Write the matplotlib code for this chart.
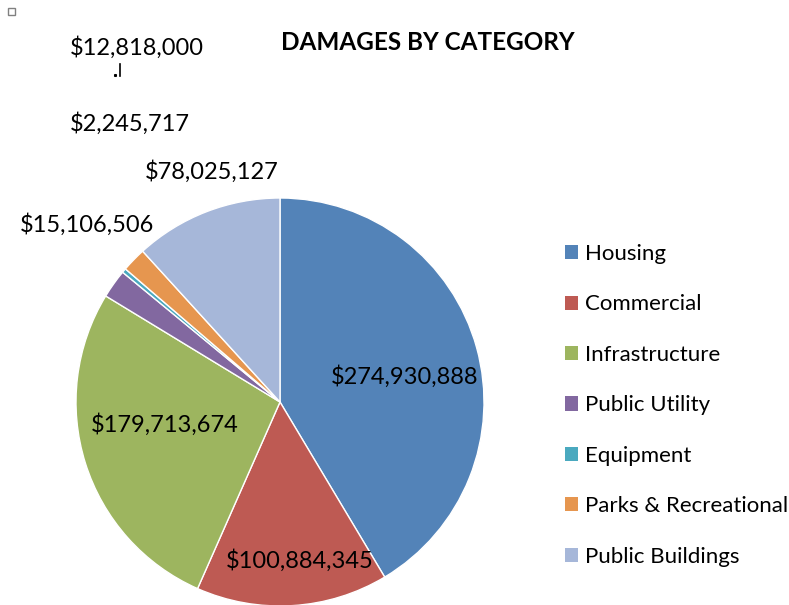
import matplotlib.pyplot as plt
from matplotlib.patches import Rectangle, Patch

# damages per category, in dollars
categories = ['Housing', 'Commercial', 'Infrastructure', 'Public Utility',
              'Equipment', 'Parks & Recreational', 'Public Buildings']
damages = [274930888, 100884345, 179713674, 15106506, 2245717, 12818000, 78025127]
colors = ['#5383B8', '#BE5A53', '#9DB55F', '#8268A0', '#4AA9BF', '#E6964F', '#A6B7D9']

# label placement (figure pixels, y from top)
label_pos = [(405, 377), (300, 561), (165, 425), (87, 225), (130, 124), (137, 48), (212, 172)]

W, H = 789, 605
plt.rcParams['font.family'] = ['Lato', 'DejaVu Sans']

fig = plt.figure(figsize=(W / 100, H / 100), dpi=100)
ax = fig.add_axes([0, 0, 1, 1])

wedges, _ = ax.pie(damages, colors=colors, startangle=90, counterclock=False,
                   center=(280, H - 402), radius=204,
                   wedgeprops=dict(edgecolor='white', linewidth=1))
ax.set_xlim(0, W)
ax.set_ylim(0, H)
ax.set_aspect('equal')
ax.axis('off')

for val, (x, y) in zip(damages, label_pos):
    ax.text(x, H - y, f'${val:,}', ha='center', va='center', fontsize=17, color='black')

# short leader line under the parks label
ax.plot([120, 120], [H - 64, H - 76], color='black', lw=1.2)
ax.plot([115], [H - 75], marker='s', ms=1.2, color='black')

# little marker in the corner
ax.add_patch(Rectangle((8, H - 15), 7, 7, fill=False, edgecolor='#808080', lw=1))

ax.text(428, H - 42, 'DAMAGES BY CATEGORY', ha='center', va='center',
        fontsize=17.5, fontweight='bold')

handles = [Patch(facecolor=c, edgecolor='none') for c in colors]
ax.legend(handles, categories, loc='upper left', bbox_to_anchor=(565 / W, 1 - 244 / H),
          frameon=False, fontsize=16, handlelength=0.6, handleheight=0.6,
          handletextpad=0.3, labelspacing=1.37, borderaxespad=0, borderpad=0)

fig.savefig('out.png', dpi=100)
